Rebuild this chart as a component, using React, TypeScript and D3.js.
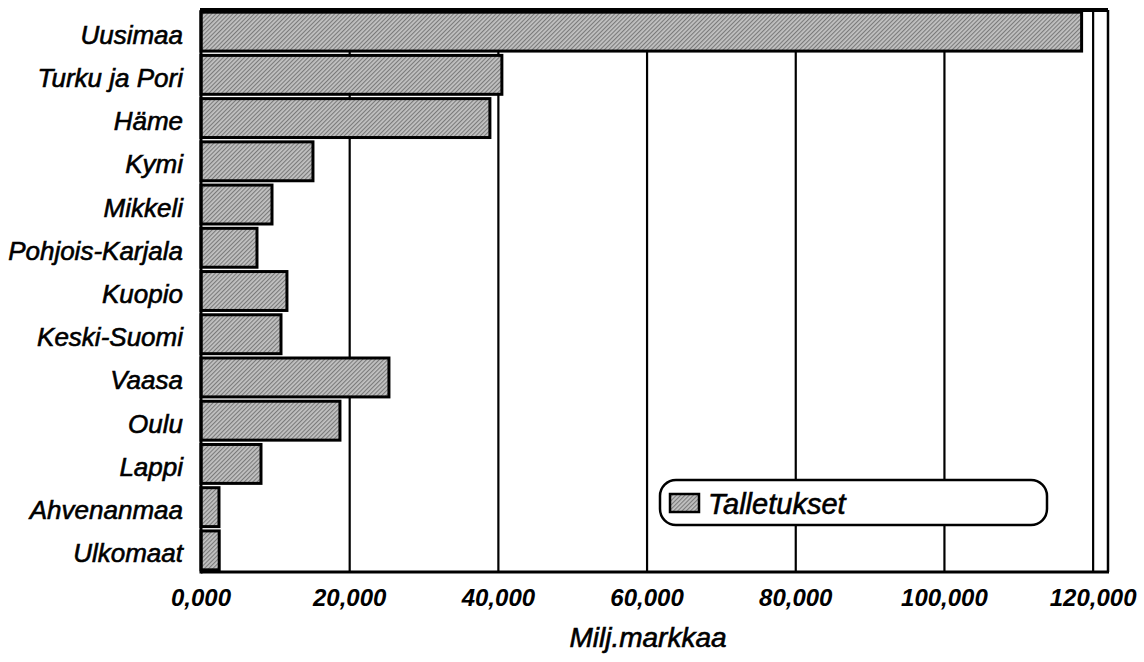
import React from "react";
import * as d3 from "d3";

const categories = [
  "Uusimaa", "Turku ja Pori", "Häme", "Kymi", "Mikkeli", "Pohjois-Karjala",
  "Kuopio", "Keski-Suomi", "Vaasa", "Oulu", "Lappi", "Ahvenanmaa", "Ulkomaat",
];
const talletukset = [
  118450, 40470, 38860, 15060, 9550, 7530, 11560, 10760, 25280, 18690, 8070, 2420, 2450,
];
const xTicks = [0, 20000, 40000, 60000, 80000, 100000, 120000];
const tickLabels = ["0,000", "20,000", "40,000", "60,000", "80,000", "100,000", "120,000"];
const seriesName = "Talletukset";
const axisTitle = "Milj.markkaa";

const W = 1144, H = 662;
const left = 201, right = 1108, top = 10, bottom = 572;
const font = "'Liberation Sans', Arial, sans-serif";

export default function App() {
  const x = d3.scaleLinear().domain([0, 122000]).range([left, right]);
  const y = d3.scaleBand<string>().domain(categories).range([top, bottom]).paddingInner(0.1).paddingOuter(0.05);
  const data = categories.map((c, i) => ({ c, v: talletukset[i] }));

  return (
    <svg width={W} height={H} style={{ position: "absolute", left: 0, top: 0, background: "#fff" }}>
      <defs>
        <pattern id="hatch" width="3" height="3" patternUnits="userSpaceOnUse" patternTransform="rotate(45)">
          <rect width="3" height="3" fill="#c2c2c2" />
          <rect width="1.1" height="3" fill="#7a7a7a" />
        </pattern>
      </defs>
      {/* gridlines */}
      {xTicks.slice(1).map((t) => (
        <line key={t} x1={x(t)} x2={x(t)} y1={top} y2={bottom} stroke="#000" strokeWidth={2.2} />
      ))}
      {/* bars */}
      {data.map((d) => (
        <rect key={d.c} x={x(0)} y={y(d.c)!} width={x(d.v) - x(0)} height={y.bandwidth()}
          fill="url(#hatch)" stroke="#000" strokeWidth={3} />
      ))}
      {/* frame */}
      <line x1={left - 1} x2={right} y1={top} y2={top} stroke="#000" strokeWidth={4} />
      <line x1={right} x2={right} y1={top} y2={bottom} stroke="#000" strokeWidth={2.5} />
      <line x1={left} x2={left} y1={top} y2={bottom + 1.5} stroke="#000" strokeWidth={3} />
      <line x1={left} x2={right + 1} y1={bottom} y2={bottom} stroke="#000" strokeWidth={3} />
      {/* category labels */}
      {categories.map((c) => (
        <text key={c} x={183} y={y(c)! + y.bandwidth() / 2 + 3} textAnchor="end" dominantBaseline="central"
          fontFamily={font} fontStyle="italic" fontSize={26} fill="#000" stroke="#000" strokeWidth={0.6}>{c}</text>
      ))}
      {/* tick labels */}
      {xTicks.map((t, i) => (
        <text key={t} x={x(t)} y={606} textAnchor="middle" fontFamily={font} fontStyle="italic"
          fontWeight="bold" fontSize={24} fill="#000">{tickLabels[i]}</text>
      ))}
      <text x={648} y={647} textAnchor="middle" fontFamily={font} fontStyle="italic" fontSize={28}
        fill="#000" stroke="#000" strokeWidth={0.6}>
        {axisTitle}
      </text>
      {/* legend */}
      <rect x={660} y={480} width={387} height={45} rx={16} ry={16} fill="#fff" stroke="#000" strokeWidth={2.5} />
      <rect x={670} y={494} width={29} height={18} fill="url(#hatch)" stroke="#000" strokeWidth={2.5} />
      <text x={708} y={514} fontFamily={font} fontStyle="italic" fontSize={29} fill="#000"
        stroke="#000" strokeWidth={0.6}>{seriesName}</text>
    </svg>
  );
}
